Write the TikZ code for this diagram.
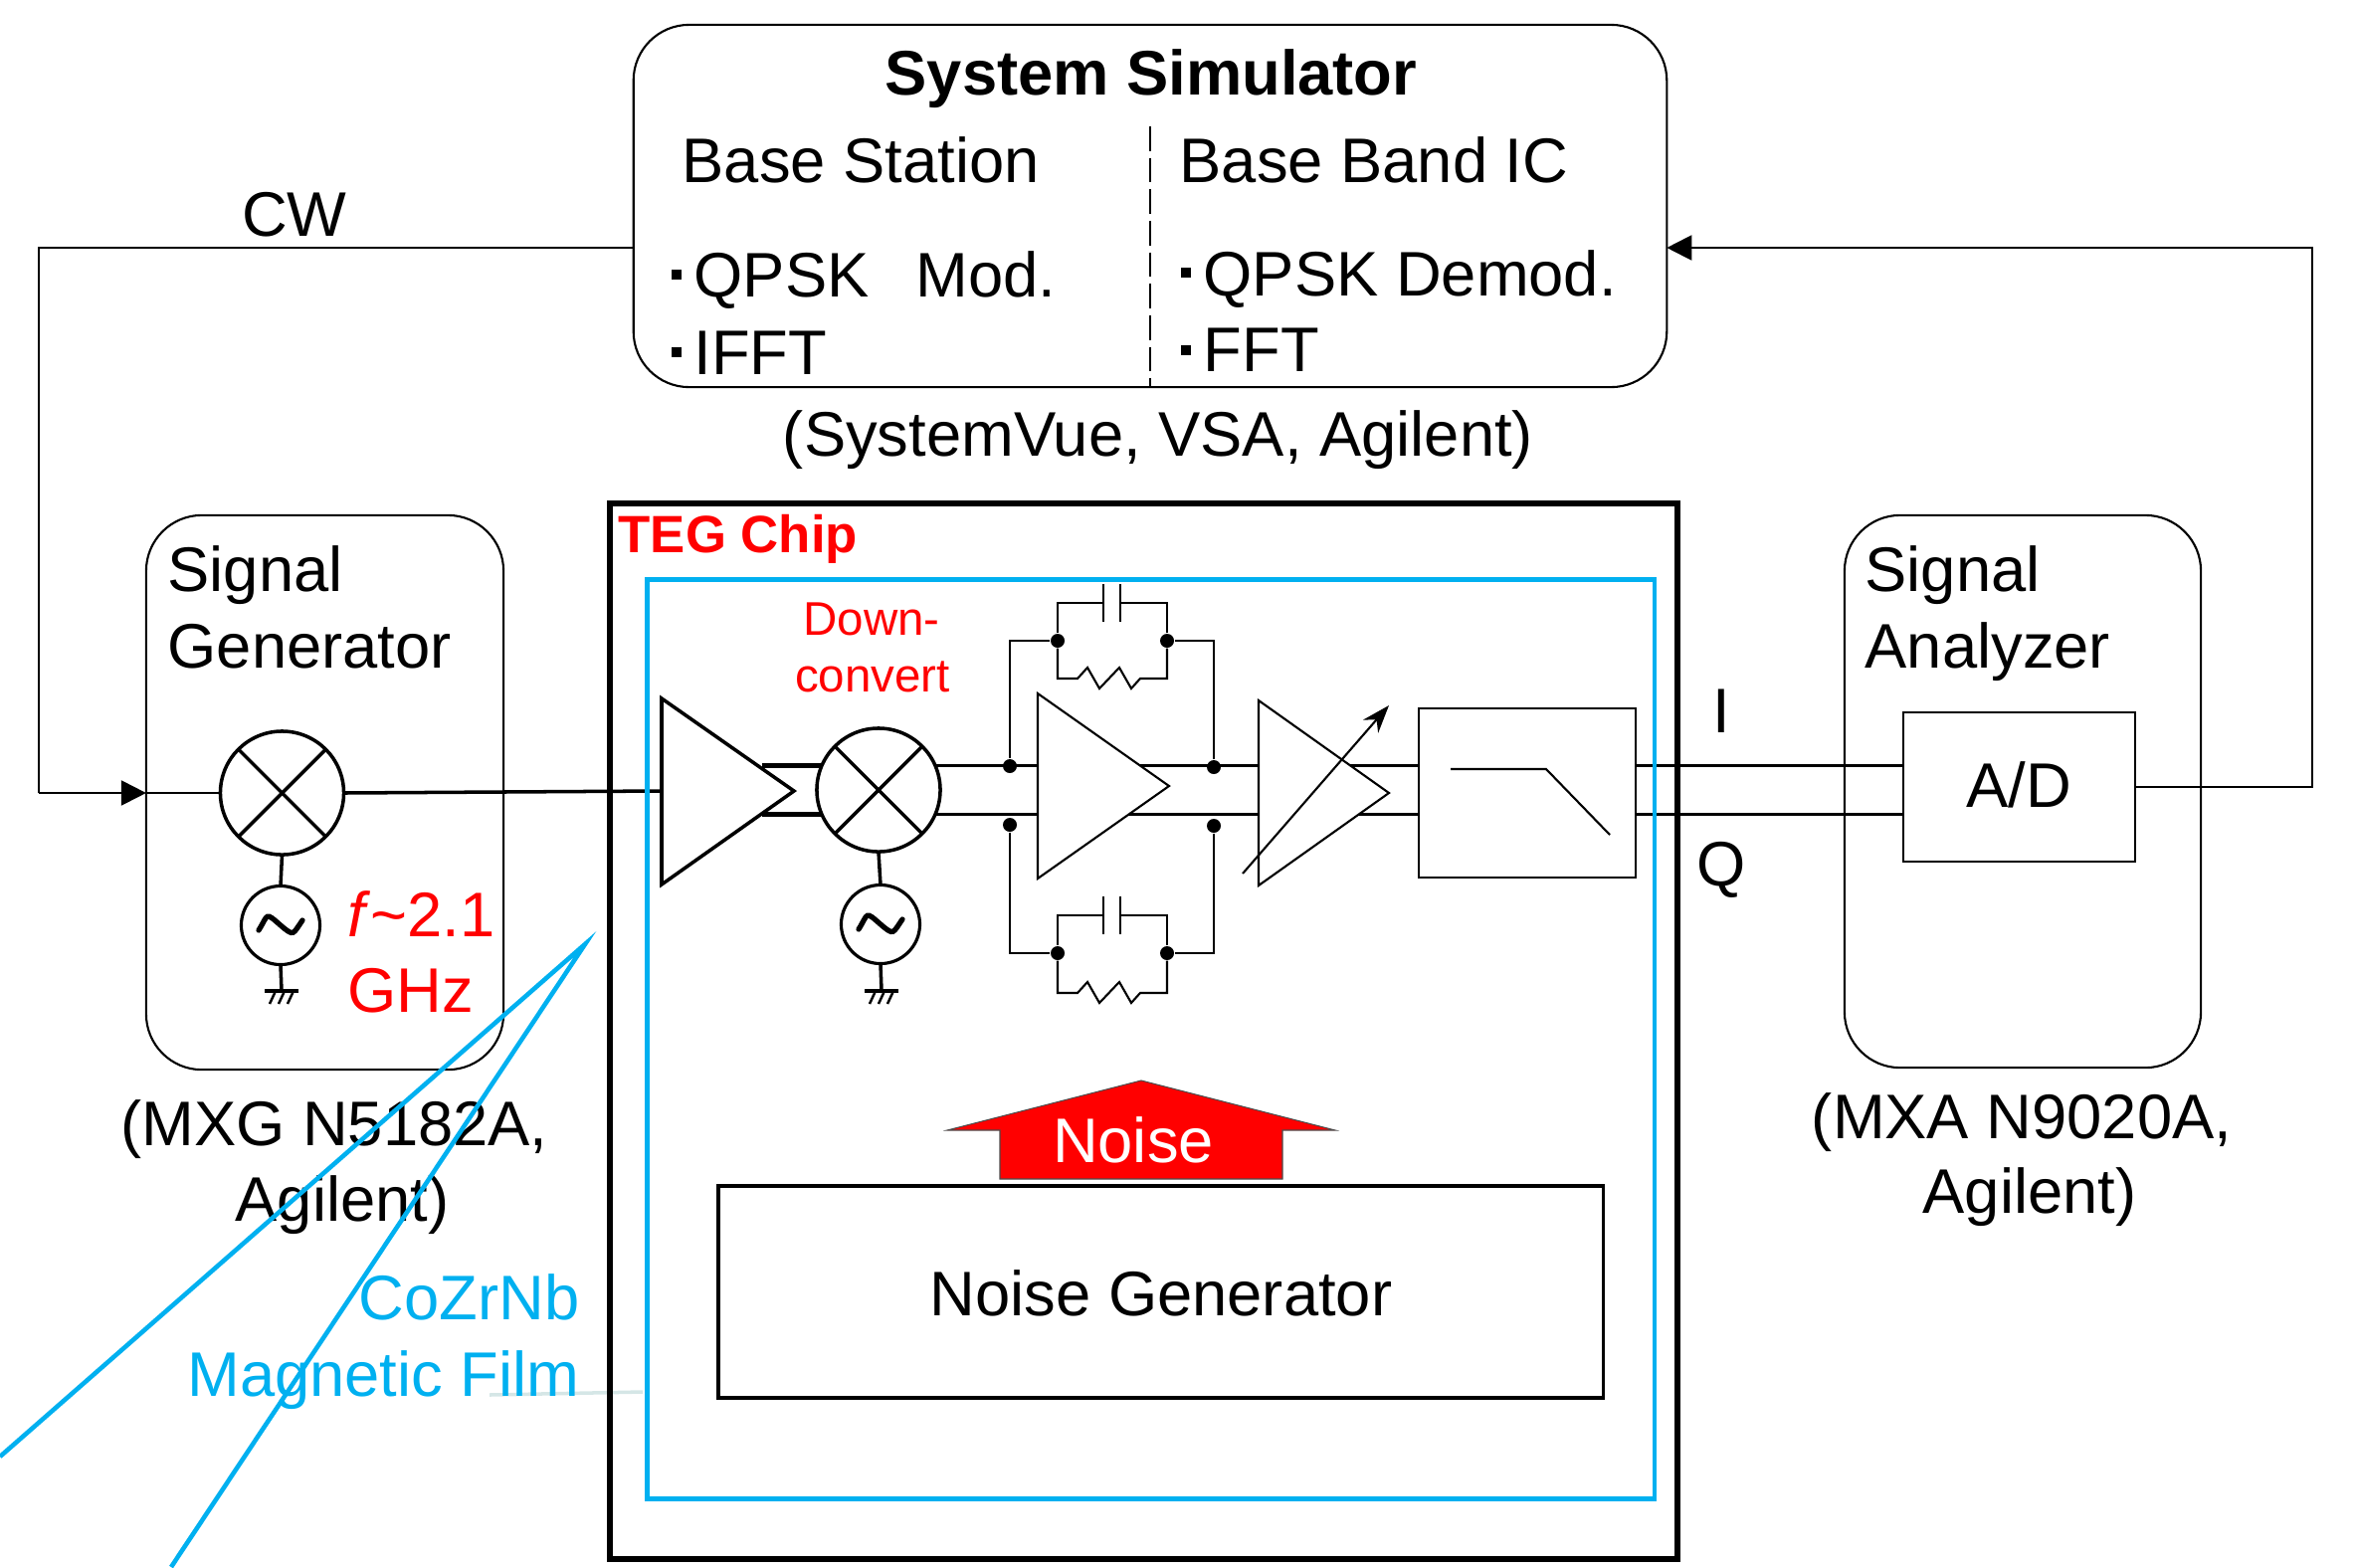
\documentclass[tikz,border=0pt]{standalone}
\usepackage{fontspec}
\setmainfont{Liberation Sans}
\usetikzlibrary{arrows.meta,calc}
\definecolor{filmblue}{HTML}{00B0F0}
\definecolor{leadgray}{HTML}{D5E6E6}
\tikzset{
    lbl/.style={inner sep=0pt, anchor=base west, font=\fontsize{18}{21}\selectfont},
    lblc/.style={lbl, anchor=base},
    wire/.style={line width=0.6pt},
    block/.style={draw, fill=white, inner sep=0pt, outer sep=0pt, line width=0.6pt},
    roundbox/.style={block, rounded corners=0.56cm},
    mixer/.style={draw, fill=white, circle, inner sep=0pt, outer sep=0pt, minimum size=1.24cm, line width=1pt},
    source/.style={draw, fill=white, circle, inner sep=0pt, outer sep=0pt, minimum size=0.79cm, line width=0.9pt},
    jdot/.style={fill, circle, inner sep=0pt, minimum size=0.14cm},
    bullet/.style={fill, inner sep=0pt, minimum size=0.1cm},
    tip/.style={-{Triangle[length=0.25cm, width=0.25cm]}}
}
\begin{document}
\begin{tikzpicture}[x=0.01cm, y=-0.01cm]
    \useasboundingbox (0,0) rectangle (2369,1575);
    % System simulator
    \node[roundbox, minimum width=10.38cm, minimum height=3.64cm] (sim) at (1156,207) {};
    \coordinate (simt) at (1156,127);
    \draw[wire, dashed, dash pattern=on 7pt off 2pt, line width=0.4pt] (simt) -- (simt |- sim.south);
    \node[lblc, font=\fontsize{18}{21}\selectfont\bfseries] (simtitle) at (1157,95) {System Simulator};
    \node[lbl] (bs) at (685,183) {Base Station};
    \node[lbl] (bb) at (1185,183) {Base Band IC};
    \node[bullet] (ba) at (680,276) {};
    \node[lbl] (qm) at (697,298) {QPSK};
    \node[lbl] (md) at (920,298) {Mod.};
    \node[bullet] (bc) at (680,354) {};
    \node[lbl] (ifft) at (697,376) {IFFT};
    \node[bullet] (bd) at (1192,274) {};
    \node[lbl] (qd) at (1209,297) {QPSK Demod.};
    \node[bullet] (be) at (1192,352) {};
    \node[lbl] (fft) at (1209,373) {FFT};
    \node[lblc] (simtool) at (1164,458) {(SystemVue, VSA, Agilent)};
    % Signal generator and analyzer
    \node[roundbox, minimum width=3.59cm, minimum height=5.57cm] (sg) at (326.5,796.5) {};
    \node[roundbox, minimum width=3.58cm, minimum height=5.55cm] (sa) at (2033,795.5) {};
    \node[block, minimum width=2.33cm, minimum height=1.5cm] (ad) at (2029.5,791) {};
    \node[lblc] at (ad.center) [yshift=-0.2cm] {A/D};
    \node[lbl] (sgsig) at (168,594) {Signal};
    \node[lbl] (sggen) at (168,671) {Generator};
    \node[lbl] (sasig) at (1874,594) {Signal};
    \node[lbl] (sagen) at (1874,671) {Analyzer};
    \node[lblc] (sgm) at (336,1151) {(MXG N5182A,};
    \node[lblc] (sgc) at (344,1227) {Agilent)};
    \node[lblc] (sam) at (2032,1144) {(MXA N9020A,};
    \node[lblc] (sac) at (2040,1219) {Agilent)};
    \node[lbl, red] (fr) at (349,941) {\textit{f}\textasciitilde 2.1};
    \node[lbl, red] (gh) at (349,1017) {GHz};
    % Mixers and local oscillators
    \node[mixer] (mixa) at (283.5,797) {};
    \node[mixer] (mixb) at (883,794) {};
    \node[source] (srca) at (282,930) {};
    \node[source] (srcb) at (885,929) {};
    \foreach \nm/\gx in {a/283, b/886}{
        \draw[line width=1pt] (mix\nm.south) -- (src\nm.north);
        \draw[line width=1pt] (mix\nm.45) -- (mix\nm.225) (mix\nm.135) -- (mix\nm.315);
        \draw[line width=1.5pt, line cap=round] ($(src\nm)+(-22,5)$) .. controls +(10,-16) and +(-16,-14) .. ($(src\nm)$)
            .. controls +(14,12) and +(-10,14) .. ($(src\nm)+(22,-5)$);
        \coordinate (gnd\nm) at (\gx,996);
        \draw[line width=1pt] (src\nm.south) -- (gnd\nm);
        \draw[line width=1pt] ($(gnd\nm)+(-17,0)$) -- ($(gnd\nm)+(17,0)$);
        \foreach \dx in {-9,0,9}
            \draw[line width=0.7pt] ($(gnd\nm)+(\dx+3,0)$) -- ($(gnd\nm)+(\dx-3,13)$);
    }
    % Wires
    \coordinate (fbl) at (39,249);
    \coordinate (fbin) at (39,797);
    \coordinate (fbr) at (2324,249);
    \coordinate (ampin) at (665,795);
    \draw[wire] (fbl -| sim.west) -- (fbl) -- (fbin);
    \draw[wire, tip] (fbin) -- (fbin -| sg.west);
    \draw[wire] (fbin -| sg.west) -- (mixa.west);
    \draw[wire, tip] (ad.east) -| (fbr) -- (fbr -| sim.east);
    \draw[line width=1pt] (mixa.east) -- (ampin);
    \node[lblc] (cw) at (296,237) {CW};
    \node[lblc] (chi) at (1730,736) {I};
    \node[lblc] (chq) at (1730,890) {Q};
    \draw[line width=1.3pt] (mixb.157) -- ++(-60,0) (mixb.203) -- ++(-60,0);
    \draw[wire, line width=0.8pt] (mixb.23) -- (mixb.23 -| ad.west) (mixb.-23) -- (mixb.-23 -| ad.west);
    % Feedback networks
    \node[jdot] (jla) at (1015,770) {};
    \node[jdot] (jlb) at (1015,829) {};
    \node[jdot] (jra) at (1220,771) {};
    \node[jdot] (jrb) at (1220,830) {};
    \foreach \nm/\yy/\yc/\yr/\jl/\jr in {t/644/606/682/jla/jra, b/958/920/998/jlb/jrb}{
        \node[jdot] (dl\nm) at (1063,\yy) {};
        \node[jdot] (dr\nm) at (1173,\yy) {};
        \coordinate (capa\nm) at (1109,\yc);
        \coordinate (capb\nm) at (1126,\yc);
        \draw[wire] (\jl) |- (dl\nm);
        \draw[wire] (\jr) |- (dr\nm);
        \draw[wire] (dl\nm) |- (capa\nm) (dr\nm) |- (capb\nm);
        \draw[wire] ($(capa\nm)+(0,-19)$) -- ($(capa\nm)+(0,19)$) ($(capb\nm)+(0,-19)$) -- ($(capb\nm)+(0,19)$);
        \draw[wire] (dl\nm) |- (1083,\yr) -- (1093,\yr-11) -- (1105,\yr+10) -- (1125,\yr-11)
            -- (1137,\yr+10) -- (1146,\yr) -| (dr\nm);
    }
    % Amplifiers and filter
    \coordinate (ampat) at (665,702);
    \coordinate (ampab) at (665,889);
    \coordinate (ampaa) at (798,795);
    \coordinate (ampbt) at (1043,697);
    \coordinate (ampbb) at (1043,883);
    \coordinate (ampba) at (1175,790);
    \coordinate (vgat) at (1265,704);
    \coordinate (vgab) at (1265,890);
    \coordinate (vgaa) at (1396,797);
    \draw[fill=white, line width=1pt] (ampat) -- (ampaa) -- (ampab) -- cycle;
    \draw[fill=white, wire] (ampbt) -- (ampba) -- (ampbb) -- cycle;
    \draw[fill=white, wire] (vgat) -- (vgaa) -- (vgab) -- cycle;
    \draw[wire, -{Stealth[length=0.28cm, width=0.2cm]}] (1249,878) -- (1396,709);
    \node[block] [minimum width=2.18cm, minimum height=1.7cm] (lpf) at (1535,797) {};
    \draw[wire] (1458,773) -- (1554,773) -- (1618,839);
    % Noise
    \node[block, line width=1pt, minimum width=8.89cm, minimum height=2.13cm] (ng) at (1166.5,1298.5) {};
    \node[lblc] (ngt) at (1167,1322) {Noise Generator};
    \draw[fill=red, line width=0.3pt, draw=black!70] (1147,1086) -- (1342,1136) -- (1289,1136) -- (1289,1185)
        -- (1005,1185) -- (1005,1136) -- (952,1136) -- cycle;
    \node[lblc, white] (nz) at (1139,1168) {Noise};
    % TEG chip and film
    \coordinate (leada) at (492,1402);
    \coordinate (leadb) at (646,1399);
    \draw[leadgray, line width=1pt] (leada) -- (leadb);
    \node[block, fill=none, line width=1.7pt, minimum width=10.73cm, minimum height=10.61cm] (chip) at (1149.5,1036.5) {};
    \node[block, fill=none, filmblue, line width=1.3pt, minimum width=10.12cm, minimum height=9.23cm] (film) at (1156.75,1044.5) {};
    \node[lbl, red, font=\fontsize{15}{18}\selectfont\bfseries] (chipt) at (621,555) {TEG Chip};
    \node[lblc, red, font=\fontsize{13.5}{16}\selectfont] (dca) at (876,638) {Down-};
    \node[lblc, red, font=\fontsize{13.5}{16}\selectfont] (dcb) at (877,695) {convert};
    \node[lbl, filmblue, anchor=base east] (fa) at (583,1326) {CoZrNb};
    \node[lbl, filmblue, anchor=base east] (fb) at (583,1403) {Magnetic Film};
    \coordinate (wa) at (0,1464);
    \coordinate (wb) at (588,949);
    \coordinate (wc) at (172,1575);
    \draw[filmblue, line width=1.3pt] (wa) -- (wb) -- (wc);
\end{tikzpicture}
\end{document}
